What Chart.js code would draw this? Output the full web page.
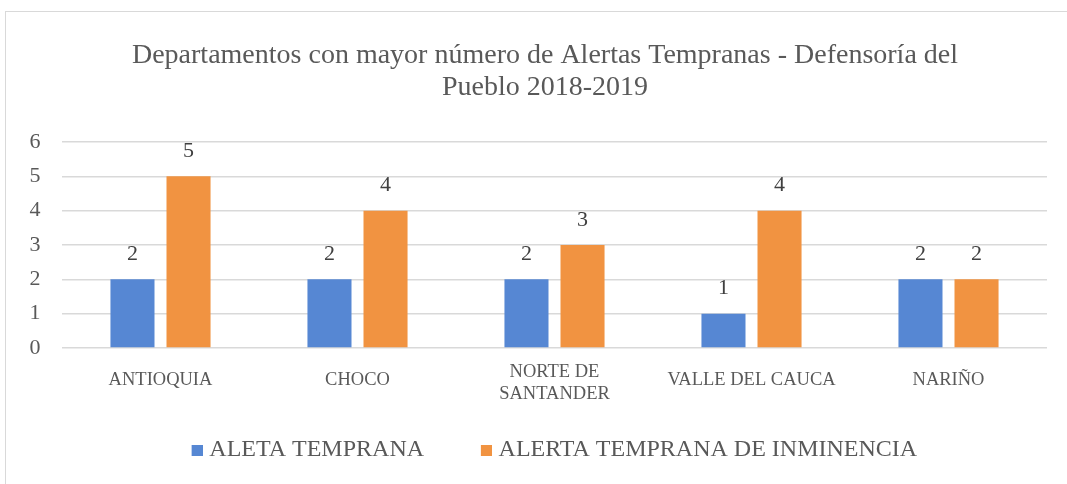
<!DOCTYPE html>
<html><head><meta charset="utf-8">
<script src="https://cdn.jsdelivr.net/npm/chart.js@4.4.1/dist/chart.umd.min.js"></script>
<style>
html,body{margin:0;padding:0;background:#fff;overflow:hidden;}
#wrap{position:relative;width:1067px;height:484px;overflow:hidden;}
#frame{position:absolute;left:5px;top:11px;width:1200px;height:600px;border:1px solid #d9d9d9;box-sizing:border-box;}
canvas{position:absolute;left:0;top:0;}
</style></head><body>
<div id="wrap"><div id="frame"></div><canvas id="c" width="1067" height="484"></canvas></div>
<script>
const titleLines = ['Departamentos con mayor número de Alertas Tempranas - Defensoría del', 'Pueblo 2018-2019'];
const categories = ['ANTIOQUIA', 'CHOCO', ['NORTE DE', 'SANTANDER'], 'VALLE DEL CAUCA', 'NARIÑO'];
const seriesNames = ['ALETA TEMPRANA', 'ALERTA TEMPRANA DE INMINENCIA'];
const alertaTemprana = [2, 2, 2, 1, 2];
const alertaInminencia = [5, 4, 3, 4, 2];
const seriesColors = ['#5687D3', '#F19341'];
const yMin = 0, yMax = 6, yStep = 1;

const SERIF = '"Liberation Serif", "Times New Roman", serif';
Chart.defaults.font.family = SERIF;
Chart.defaults.color = '#595959';

function swatch(color) {
  const c = document.createElement('canvas');
  c.width = 16; c.height = 11;
  const g = c.getContext('2d');
  g.fillStyle = color;
  g.fillRect(5, 0, 11, 11);
  return c;
}
const swatches = seriesColors.map(swatch);

const valueLabels = {
  id: 'valueLabels',
  afterDatasetsDraw(chart) {
    const ctx = chart.ctx;
    ctx.save();
    ctx.font = '22px ' + SERIF;
    ctx.fillStyle = '#404040';
    ctx.textAlign = 'center';
    ctx.textBaseline = 'alphabetic';
    chart.data.datasets.forEach((ds, i) => {
      chart.getDatasetMeta(i).data.forEach((bar, j) => {
        ctx.fillText(String(ds.data[j]), bar.x, bar.y - 19.5);
      });
    });
    ctx.restore();
  }
};

new Chart(document.getElementById('c'), {
  type: 'bar',
  data: {
    labels: categories,
    datasets: [
      { label: seriesNames[0], data: alertaTemprana, backgroundColor: seriesColors[0], borderWidth: 0,
        categoryPercentage: 0.569, barPercentage: 0.786 },
      { label: seriesNames[1], data: alertaInminencia, backgroundColor: seriesColors[1], borderWidth: 0,
        categoryPercentage: 0.569, barPercentage: 0.786 }
    ]
  },
  options: {
    responsive: false,
    animation: false,
    layout: { padding: { left: 43, right: 20, top: 0, bottom: 12 } },
    plugins: {
      tooltip: { enabled: false },
      title: {
        display: true,
        text: titleLines,
        color: '#595959',
        font: { family: SERIF, size: 28, weight: 'normal', lineHeight: 32 / 28 },
        padding: { top: 39.5, bottom: 38.5 }
      },
      legend: {
        position: 'bottom',
        fullSize: false,
        labels: {
          usePointStyle: true,
          boxWidth: 5.5,
          padding: 57,
          color: '#595959',
          font: { family: SERIF, size: 24 },
          generateLabels(chart) {
            const items = Chart.defaults.plugins.legend.labels.generateLabels(chart);
            items.forEach((it, i) => { it.pointStyle = swatches[i]; });
            return items;
          }
        }
      }
    },
    scales: {
      x: {
        grid: { display: false, drawTicks: false },
        border: { display: false },
        ticks: {
          color: '#595959',
          mirror: true,
          padding: -34.8,
          maxRotation: 0,
          autoSkip: false,
          font: (ctx) => ({ family: SERIF, size: 18.5, lineHeight: Array.isArray(categories[ctx.index]) ? '22px' : '6px' })
        },
        afterFit(scale) { scale.height = 33; }
      },
      y: {
        min: yMin, max: yMax,
        grid: { color: '#d9d9d9', lineWidth: 1.5, drawTicks: false },
        border: { display: false },
        ticks: { stepSize: yStep, color: '#595959', mirror: true, padding: -32.5, font: { family: SERIF, size: 22 } },
        afterFit(scale) { scale.width = 19; }
      }
    }
  },
  plugins: [valueLabels]
});
</script>
</body></html>
